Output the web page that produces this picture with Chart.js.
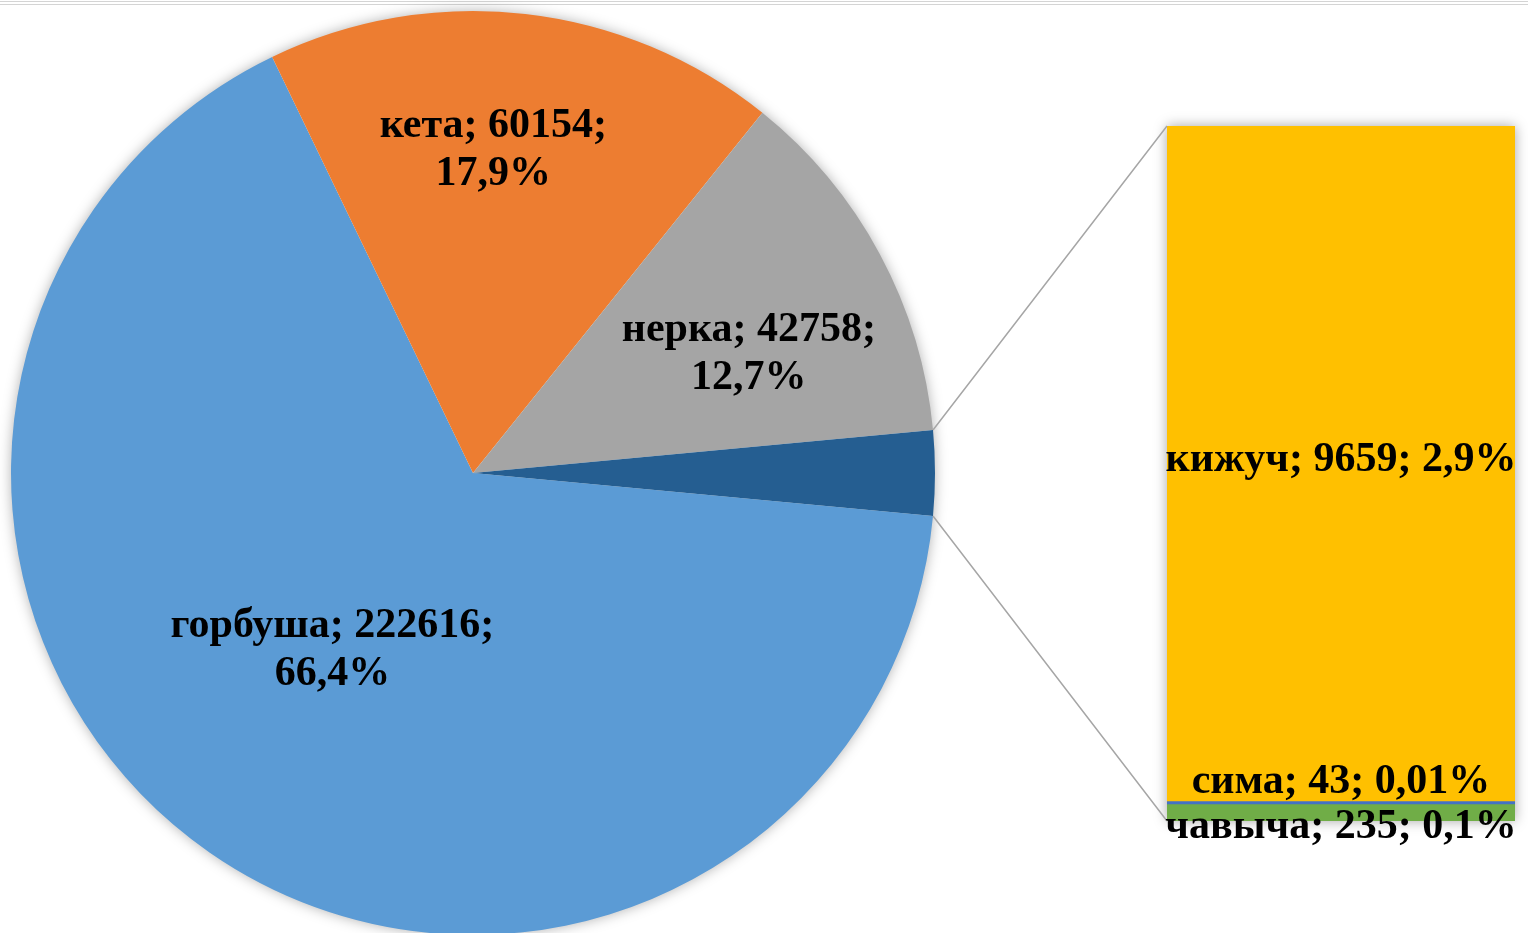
<!DOCTYPE html>
<html>
<head>
<meta charset="utf-8">
<script src="https://cdn.jsdelivr.net/npm/chart.js@4.4.0/dist/chart.umd.min.js"></script>
<style>
  html, body { margin: 0; padding: 0; background: #fff; overflow: hidden; }
  #wrap { position: relative; width: 1528px; height: 933px; }
  canvas { position: absolute; left: 0; top: 0; }
  .rule { position: absolute; left: 0; width: 1528px; height: 1px; background: #d4d4d4; }
</style>
</head>
<body>
<div id="wrap">
  <div class="rule" style="top:1px"></div>
  <div class="rule" style="top:4px"></div>
  <canvas id="pie" width="1528" height="946"></canvas>
  <canvas id="bar" width="1528" height="946"></canvas>
</div>
<script>
// main pie
const pieNames = ['горбуша', 'кета', 'нерка', 'прочие'];
const pieValues = [222616, 60154, 42758, 9937];
const piePct = ['66,4%', '17,9%', '12,7%', ''];
const pieColors = ['#5B9BD5', '#ED7D31', '#A5A5A5', '#255E91'];

// secondary bar (the "прочие" slice split up), bottom to top
const barNames = ['чавыча', 'сима', 'кижуч'];
const barValues = [235, 43, 9659];
const barPct = ['0,1%', '0,01%', '2,9%'];
const barColors = ['#70AD47', '#4472C4', '#FFC000'];

const FONT = 'bold 42px "Liberation Serif", "Times New Roman", serif';
const otherTotal = barValues.reduce((a, b) => a + b, 0);
const otherShare = otherTotal / pieValues.reduce((a, b) => a + b, 0);
// centre the "other" slice on 3 o'clock
const rotation = 90 + otherShare * 180;

// label placement: radial fraction + angular nudge (deg) per slice
const pieLabelPos = [[0.49, 3.6], [0.70, -2.9], [0.65, 5], null];

const pieShadow = {
  id: 'pieShadow',
  beforeDatasetsDraw(chart) {
    const a = chart.getDatasetMeta(0).data[0];
    const ctx = chart.ctx;
    ctx.save();
    ctx.shadowColor = 'rgba(0,0,0,0.35)';
    ctx.shadowBlur = 14;
    ctx.fillStyle = '#fff';
    ctx.beginPath();
    ctx.arc(a.x, a.y, a.outerRadius - 1, 0, Math.PI * 2);
    ctx.fill();
    ctx.restore();
  },
  afterDatasetsDraw(chart) {
    const ctx = chart.ctx;
    ctx.save();
    ctx.font = FONT;
    ctx.fillStyle = '#000';
    ctx.textAlign = 'center';
    ctx.textBaseline = 'middle';
    chart.getDatasetMeta(0).data.forEach((arc, i) => {
      const p = pieLabelPos[i];
      if (!p) return;
      const mid = (arc.startAngle + arc.endAngle) / 2 + p[1] * Math.PI / 180;
      const r = arc.outerRadius * p[0];
      const x = arc.x + r * Math.cos(mid);
      const y = arc.y + r * Math.sin(mid);
      ctx.fillText(pieNames[i] + '; ' + pieValues[i] + ';', x, y - 24);
      ctx.fillText(piePct[i], x, y + 24);
    });
    ctx.restore();
  }
};

const pieChart = new Chart(document.getElementById('pie'), {
  type: 'pie',
  data: {
    labels: pieNames,
    datasets: [{ data: pieValues, backgroundColor: pieColors, borderWidth: 0 }]
  },
  options: {
    responsive: false,
    animation: false,
    rotation: rotation,
    layout: { padding: { left: 11, top: 11, right: 593, bottom: 11 } },
    plugins: { legend: { display: false }, tooltip: { enabled: false } }
  },
  plugins: [pieShadow]
});

const barExtras = {
  id: 'barExtras',
  beforeDatasetsDraw(chart) {
    const ca = chart.chartArea;
    const ctx = chart.ctx;
    ctx.save();
    ctx.shadowColor = 'rgba(0,0,0,0.35)';
    ctx.shadowBlur = 12;
    ctx.fillStyle = '#fff';
    ctx.fillRect(ca.left, ca.top, ca.right - ca.left, ca.bottom - ca.top);
    ctx.restore();
  },
  afterDatasetsDraw(chart) {
    const ctx = chart.ctx;
    const ca = chart.chartArea;
    // connector lines from the "other" slice to the bar
    const o = pieChart.getDatasetMeta(0).data[3];
    ctx.save();
    ctx.strokeStyle = '#A6A6A6';
    ctx.lineWidth = 1.5;
    ctx.beginPath();
    ctx.moveTo(o.x + o.outerRadius * Math.cos(o.startAngle), o.y + o.outerRadius * Math.sin(o.startAngle));
    ctx.lineTo(ca.left, ca.top);
    ctx.moveTo(o.x + o.outerRadius * Math.cos(o.endAngle), o.y + o.outerRadius * Math.sin(o.endAngle));
    ctx.lineTo(ca.left, ca.bottom);
    ctx.stroke();

    ctx.font = FONT;
    ctx.fillStyle = '#000';
    ctx.textAlign = 'center';
    ctx.textBaseline = 'middle';
    const nudge = [14, -21, -4];
    chart.data.datasets.forEach((ds, i) => {
      const el = chart.getDatasetMeta(i).data[0];
      const y = (el.y + el.base) / 2 + nudge[i];
      ctx.fillText(barNames[i] + '; ' + barValues[i] + '; ' + barPct[i], el.x, y);
    });
    ctx.restore();
  }
};

new Chart(document.getElementById('bar'), {
  type: 'bar',
  data: {
    labels: [''],
    datasets: barNames.map((n, i) => ({
      label: n, data: [barValues[i]], backgroundColor: barColors[i], borderWidth: 0,
      barPercentage: 1, categoryPercentage: 1
    }))
  },
  options: {
    responsive: false,
    animation: false,
    layout: { padding: { left: 1167, right: 13, top: 126, bottom: 125 } },
    scales: {
      x: { display: false, stacked: true },
      y: { display: false, stacked: true, min: 0, max: otherTotal }
    },
    plugins: { legend: { display: false }, tooltip: { enabled: false } }
  },
  plugins: [barExtras]
});
</script>
</body>
</html>
